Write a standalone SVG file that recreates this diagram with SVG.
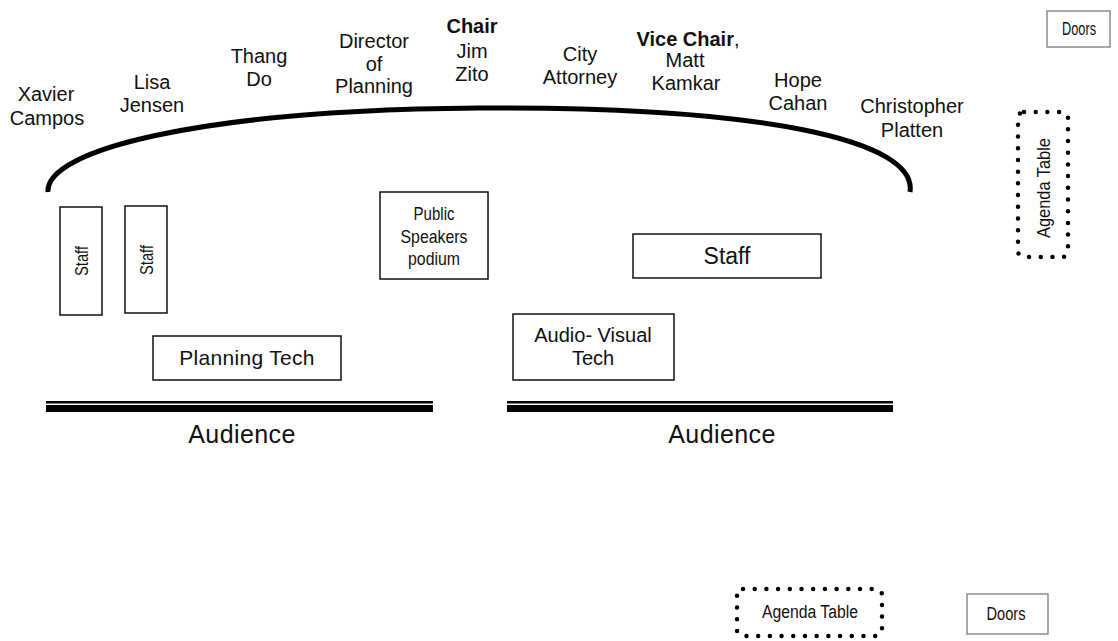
<svg xmlns="http://www.w3.org/2000/svg" width="1118" height="641" viewBox="0 0 1118 641">
<style>
  .lbl { font-family: "Liberation Sans", Arial, sans-serif; font-size: 20px; fill: #111; text-anchor: middle; }
  .b { font-weight: bold; }
  .box { fill: #fff; stroke: #111; stroke-width: 1.5; }
  .door { fill: #fff; stroke: #8a8a8a; stroke-width: 1.5; }
  .dots { fill: none; stroke: #000; stroke-width: 4.5; stroke-linecap: round; stroke-dasharray: 0 11.7; }
  .nar { font-family: "Liberation Sans", Arial, sans-serif; font-size: 19px; fill: #111; text-anchor: middle; }
  .bar { fill: #000; }
</style>
<rect width="1118" height="641" fill="#fff"/>

<g id="dais">
  <path d="M 48 192 C 45 150, 200 110, 479 108 C 760 106, 918 140, 910 192" fill="none" stroke="#000" stroke-width="5"/>
</g>

<g id="seat-xavier-campos"><text class="lbl" x="46" y="101">Xavier</text><text class="lbl" x="47" y="125">Campos</text></g>
<g id="seat-lisa-jensen"><text class="lbl" x="152" y="89">Lisa</text><text class="lbl" x="152" y="112">Jensen</text></g>
<g id="seat-thang-do"><text class="lbl" x="259" y="63">Thang</text><text class="lbl" x="259" y="86">Do</text></g>
<g id="seat-director"><text class="lbl" x="374" y="48">Director</text><text class="lbl" x="374" y="71">of</text><text class="lbl" x="374" y="93">Planning</text></g>
<g id="seat-chair"><text class="lbl b" x="472" y="33">Chair</text><text class="lbl" x="472" y="58">Jim</text><text class="lbl" x="472" y="81">Zito</text></g>
<g id="seat-city-attorney"><text class="lbl" x="580" y="61">City</text><text class="lbl" x="580" y="84">Attorney</text></g>
<g id="seat-vice-chair"><text class="lbl" x="688" y="46"><tspan class="b">Vice Chair</tspan>,</text><text class="lbl" x="685" y="67">Matt</text><text class="lbl" x="686" y="90">Kamkar</text></g>
<g id="seat-hope-cahan"><text class="lbl" x="798" y="87">Hope</text><text class="lbl" x="798" y="110">Cahan</text></g>
<g id="seat-christopher-platten"><text class="lbl" x="912" y="113">Christopher</text><text class="lbl" x="912" y="137">Platten</text></g>

<g id="staff-1">
  <rect class="box" x="60" y="207" width="42" height="108"/>
  <text class="nar" transform="translate(81,261) rotate(-90)" x="0" y="7" textLength="30" lengthAdjust="spacingAndGlyphs">Staff</text>
</g>
<g id="staff-2">
  <rect class="box" x="125" y="206" width="42" height="107"/>
  <text class="nar" transform="translate(146,260) rotate(-90)" x="0" y="7" textLength="30" lengthAdjust="spacingAndGlyphs">Staff</text>
</g>
<g id="podium">
  <rect class="box" x="380" y="192" width="108" height="87"/>
  <text class="nar" x="434" y="220" textLength="41" lengthAdjust="spacingAndGlyphs">Public</text>
  <text class="nar" x="434" y="243" textLength="67" lengthAdjust="spacingAndGlyphs">Speakers</text>
  <text class="nar" x="434" y="265" textLength="52" lengthAdjust="spacingAndGlyphs">podium</text>
</g>
<g id="staff-3">
  <rect class="box" x="633" y="234" width="188" height="44"/>
  <text class="lbl" style="font-size:23px" x="727" y="264">Staff</text>
</g>
<g id="planning-tech">
  <rect class="box" x="153" y="336" width="188" height="44"/>
  <text class="lbl" style="font-size:21px;letter-spacing:0.3px" x="247" y="365">Planning Tech</text>
</g>
<g id="av-tech">
  <rect class="box" x="513" y="314" width="161" height="66"/>
  <text class="lbl" x="593" y="342">Audio- Visual</text>
  <text class="lbl" x="593" y="365">Tech</text>
</g>

<g id="audience-left">
  <rect class="bar" x="46" y="401" width="387" height="2.5"/>
  <rect class="bar" x="46" y="405" width="387" height="7"/>
  <text class="lbl" style="font-size:25px;letter-spacing:0.4px" x="242" y="443">Audience</text>
</g>
<g id="audience-right">
  <rect class="bar" x="507" y="401" width="386" height="2.5"/>
  <rect class="bar" x="507" y="405" width="386" height="7"/>
  <text class="lbl" style="font-size:25px;letter-spacing:0.4px" x="722" y="443">Audience</text>
</g>

<g id="doors-top">
  <rect class="door" x="1047" y="11" width="63" height="36"/>
  <text class="nar" style="font-size:18px" x="1079" y="35" textLength="34" lengthAdjust="spacingAndGlyphs">Doors</text>
</g>
<g id="agenda-table-right">
  <rect class="dots" x="1018" y="112" width="50" height="145" rx="6"/>
  <text class="nar" transform="translate(1043,188) rotate(-90)" x="0" y="7" textLength="100" lengthAdjust="spacingAndGlyphs">Agenda Table</text>
</g>
<g id="agenda-table-bottom">
  <rect class="dots" x="737" y="589" width="145" height="47" rx="6"/>
  <text class="nar" style="font-size:18px" x="810" y="618" textLength="96" lengthAdjust="spacingAndGlyphs">Agenda Table</text>
</g>
<g id="doors-bottom">
  <rect class="door" x="967" y="594" width="81" height="40"/>
  <text class="nar" style="font-size:18px" x="1006" y="620" textLength="39" lengthAdjust="spacingAndGlyphs">Doors</text>
</g>
<g id="connectors"></g>
</svg>
